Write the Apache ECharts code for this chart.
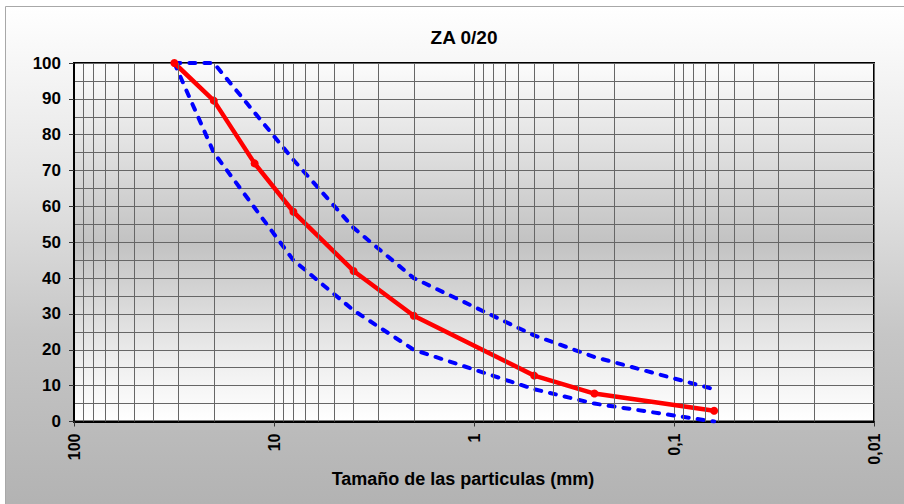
<!DOCTYPE html>
<html>
<head>
<meta charset="utf-8">
<script src="https://cdn.jsdelivr.net/npm/echarts@6/dist/echarts.min.js"></script>
<style>
html,body{margin:0;padding:0;background:#fff;}
#chart{width:904px;height:504px;}
</style>
</head>
<body>
<div id="chart"></div>
<script>
// ---- data ----
const chartTitle = 'ZA 0/20';
const xAxisTitle = 'Tamaño de las particulas (mm)';
const sieveSizes = [31.5, 20, 12.5, 8, 4, 2, 0.5, 0.25, 0.063];
const passing = [100, 89.5, 72, 58.5, 42, 29.5, 12.8, 7.8, 3];
const limitSizes = [31.5, 20, 8, 4, 2, 0.5, 0.25, 0.063];
const upperLimit = [100, 100, 73, 54, 40, 24, 18, 9];
const lowerLimit = [100, 75, 45, 31, 20, 9, 5, 0];
const xTickLabels = {'100': '100', '10': '10', '1': '1', '0.1': '0,1', '0.01': '0,01'};
const yTicks = [0, 10, 20, 30, 40, 50, 60, 70, 80, 90, 100];

const FONT = "'Liberation Sans', Arial, sans-serif";

// minor vertical gridlines (2..9 x each decade)
const xMinorGrid = [];
for (let e = -2; e < 2; e++) {
  for (let m = 2; m <= 9; m++) xMinorGrid.push({xAxis: +(m * Math.pow(10, e)).toPrecision(3)});
}

const zip = (xs, ys) => xs.map((x, i) => [x, ys[i]]);

const chart = echarts.init(document.getElementById('chart'), null, {renderer: 'svg'});

const option = {
  backgroundColor: '#ffffff',
  animation: false,
  graphic: [
    {
      type: 'rect', z: -100, silent: true,
      shape: {x: 5.5, y: 6.5, width: 904, height: 504},
      style: {
        fill: {type: 'linear', x: 0, y: 0, x2: 0, y2: 1, colorStops: [
          {offset: 0, color: '#ffffff'},
          {offset: 0.35, color: '#e4e4e4'},
          {offset: 0.65, color: '#c6c6c6'},
          {offset: 1, color: '#b2b2b2'}
        ]},
        stroke: '#a8a8a8', lineWidth: 1
      }
    },
    {
      type: 'text', z: 10,
      x: 464, y: 37,
      style: {text: chartTitle, x: 0, y: 0, textAlign: 'center', textVerticalAlign: 'middle',
              font: "bold 19px " + FONT, fill: '#000'}
    },
    {
      type: 'text', z: 10,
      x: 463, y: 479,
      style: {text: xAxisTitle, x: 0, y: 0, textAlign: 'center', textVerticalAlign: 'middle',
              font: "bold 18px " + FONT, fill: '#000'}
    }
  ],
  grid: {
    left: 74, top: 63, width: 800, height: 358.5,
    show: true, borderColor: '#000', borderWidth: 2,
    backgroundColor: {type: 'linear', x: 0, y: 0, x2: 0, y2: 1, colorStops: [
      {offset: 0, color: '#fcfcfc'},
      {offset: 0.5, color: '#c2c2c2'},
      {offset: 0.85, color: '#f0f0f0'},
      {offset: 1, color: '#ffffff'}
    ]}
  },
  xAxis: {
    type: 'log', logBase: 10, min: 0.01, max: 100, inverse: true,
    axisLine: {show: true, onZero: false, lineStyle: {color: '#000', width: 2}},
    axisTick: {show: true, length: 5, lineStyle: {color: '#333'}},
    axisLabel: {
      rotate: 90, margin: 12, color: '#000', fontWeight: 'bold', fontSize: 16, fontFamily: FONT,
      formatter: v => {
        const k = String(+(+v).toPrecision(3));
        return xTickLabels[k] !== undefined ? xTickLabels[k] : '';
      }
    },
    splitLine: {show: true, lineStyle: {color: '#666666', width: 1}}
  },
  yAxis: {
    type: 'value', min: 0, max: 100, interval: 10,
    axisLine: {show: true, lineStyle: {color: '#000', width: 2}},
    axisTick: {show: true, length: 5, lineStyle: {color: '#333'}},
    axisLabel: {margin: 13, color: '#000', fontWeight: 'bold', fontSize: 17, fontFamily: FONT,
      formatter: v => yTicks.indexOf(v) >= 0 ? String(v) : ''},
    splitLine: {show: true, lineStyle: {color: '#666666', width: 1}},
    minorTick: {show: false, splitNumber: 2},
    minorSplitLine: {show: true, lineStyle: {color: '#666666', width: 1}}
  },
  series: [
    {
      type: 'line', data: [], z: 1, silent: true,
      markLine: {
        silent: true, symbol: 'none', animation: false,
        label: {show: false},
        lineStyle: {color: '#666666', width: 1, type: 'solid'},
        data: xMinorGrid
      }
    },
    {
      name: 'Upper', type: 'line', z: 3, data: zip(limitSizes, upperLimit),
      showSymbol: false, symbol: 'none',
      lineStyle: {color: '#0000ff', width: 4, type: [6, 9], cap: 'round'}
    },
    {
      name: 'Lower', type: 'line', z: 3, data: zip(limitSizes, lowerLimit),
      showSymbol: false, symbol: 'none',
      lineStyle: {color: '#0000ff', width: 4, type: [6, 9], cap: 'round'}
    },
    {
      name: 'Passing', type: 'line', z: 4, data: zip(sieveSizes, passing),
      symbol: 'circle', symbolSize: 8,
      itemStyle: {color: '#ff0000'},
      lineStyle: {color: '#ff0000', width: 4.5}
    }
  ]
};
chart.setOption(option);
</script>
</body>
</html>
